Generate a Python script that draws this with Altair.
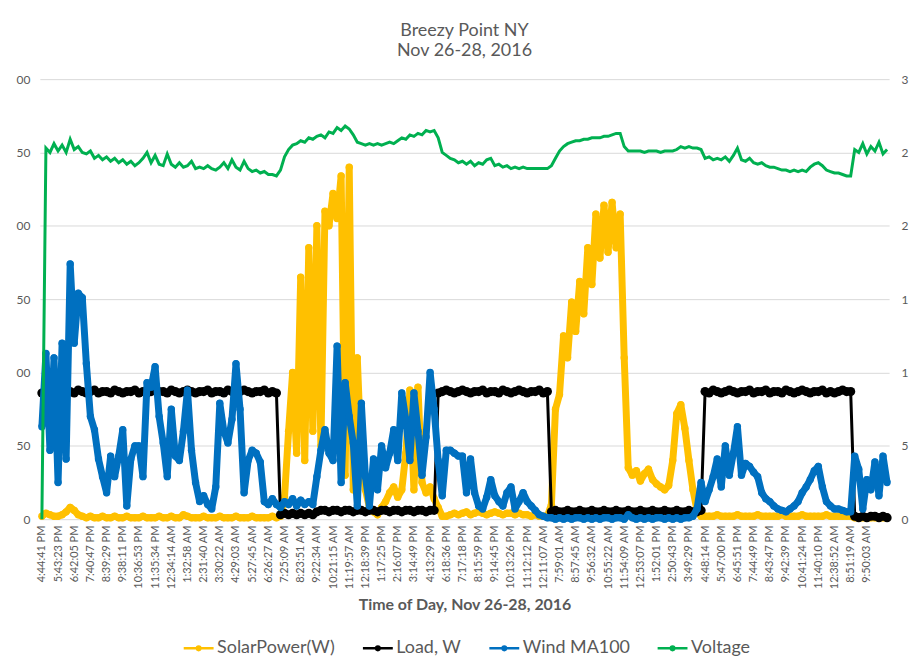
import json
import altair as alt
import pandas as pd

# ---------------- data ----------------
time_labels = [
    "4:44:41 PM", "5:43:23 PM", "6:42:05 PM", "7:40:47 PM", "8:39:29 PM", "9:38:11 PM",
    "10:36:53 PM", "11:35:34 PM", "12:34:14 AM", "1:32:58 AM", "2:31:40 AM", "3:30:22 AM",
    "4:29:03 AM", "5:27:45 AM", "6:26:27 AM", "7:25:09 AM", "8:23:51 AM", "9:22:34 AM",
    "10:21:15 AM", "11:19:57 AM", "12:18:39 PM", "1:17:25 PM", "2:16:07 PM", "3:14:49 PM",
    "4:13:29 PM", "6:18:36 PM", "7:17:18 PM", "8:15:59 PM", "9:14:45 PM", "10:13:26 PM",
    "11:12:12 PM", "12:11:07 AM", "7:59:01 AM", "8:57:45 AM", "9:56:32 AM", "10:55:22 AM",
    "11:54:09 AM", "12:53:07 PM", "1:52:01 PM", "2:50:43 PM", "3:49:29 PM", "4:48:14 PM",
    "5:47:00 PM", "6:45:51 PM", "7:44:49 PM", "8:43:47 PM", "9:42:39 PM", "10:41:24 PM",
    "11:40:10 PM", "12:38:52 AM", "8:51:19 AM", "9:50:03 AM",
]
samples_per_label = 4

solar_w = [
    2, 4, 3, 2, 2, 3, 5, 8, 6, 3,
    2, 1, 2, 1, 1, 2, 1, 1, 2, 1,
    1, 2, 1, 1, 1, 2, 1, 1, 1, 2,
    1, 1, 2, 1, 1, 3, 2, 1, 1, 1,
    2, 1, 1, 1, 2, 1, 1, 1, 2, 1,
    1, 1, 2, 1, 1, 1, 1, 2, 1, 2,
    15, 60, 100, 45, 165, 40, 185, 60, 200, 50,
    210, 200, 222, 205, 234, 30, 240, 20, 110, 40,
    20, 8, 5, 3, 8, 12, 18, 22, 15, 20,
    45, 88, 20, 90, 25, 18, 22, 14, 8, 2,
    2, 3, 4, 3, 4, 5, 3, 4, 5, 4,
    3, 4, 5, 4, 3, 4, 4, 3, 4, 3,
    3, 2, 3, 2, 2, 2, 10, 75, 85, 125,
    110, 148, 128, 162, 140, 185, 160, 208, 178, 214,
    182, 216, 185, 208, 110, 35, 30, 33, 26, 31,
    34, 27, 24, 22, 20, 23, 40, 72, 78, 62,
    40, 20, 6, 2, 2, 2, 2, 3, 2, 2,
    2, 2, 3, 2, 2, 2, 2, 3, 2, 2,
    2, 2, 2, 3, 2, 2, 2, 2, 3, 2,
    2, 2, 2, 2, 3, 2, 2, 2, 2, 2,
    2, 1, 1, 1, 1, 1, 1, 1, 1, 1,
]

load_w = [
    86, 87, 86, 88, 87, 86, 87, 87, 86, 88,
    87, 86, 87, 88, 86, 87, 87, 86, 88, 87,
    86, 87, 87, 88, 86, 87, 86, 87, 88, 87,
    87, 86, 88, 87, 86, 87, 88, 87, 86, 87,
    87, 88, 86, 87, 87, 86, 88, 87, 86, 87,
    88, 87, 86, 87, 87, 88, 86, 87, 86, 3,
    4, 3, 4, 3, 4, 3, 4, 3, 5, 6,
    6, 5, 6, 6, 5, 6, 6, 5, 6, 6,
    5, 6, 6, 5, 6, 6, 5, 6, 6, 5,
    6, 6, 5, 6, 6, 5, 6, 6, 86, 87,
    88, 87, 86, 87, 88, 87, 86, 87, 87, 88,
    86, 87, 87, 86, 88, 87, 86, 87, 88, 87,
    86, 87, 87, 88, 86, 87, 5, 6, 5, 5,
    6, 5, 5, 6, 5, 5, 6, 5, 5, 6,
    5, 5, 6, 5, 5, 6, 5, 5, 6, 5,
    5, 6, 5, 5, 6, 5, 5, 6, 5, 5,
    6, 5, 5, 6, 87, 86, 88, 87, 86, 87,
    88, 87, 86, 87, 87, 88, 86, 87, 87, 88,
    86, 87, 87, 86, 88, 87, 86, 87, 88, 87,
    86, 87, 87, 88, 86, 87, 86, 87, 88, 87,
    87, 2, 1, 2, 1, 2, 2, 1, 2, 1,
]

wind_ma100 = [
    63, 113, 47, 110, 25, 120, 41, 174, 120, 154,
    151, 106, 70, 61, 41, 29, 18, 43, 29, 43,
    61, 9, 41, 50, 50, 29, 93, 90, 104, 70,
    52, 29, 75, 43, 40, 60, 88, 47, 25, 12,
    16, 10, 7, 22, 79, 60, 52, 68, 106, 75,
    18, 40, 47, 45, 39, 12, 10, 14, 10, 8,
    12, 10, 14, 9, 13, 10, 12, 10, 29, 47,
    61, 45, 40, 118, 25, 93, 70, 52, 9, 79,
    29, 9, 41, 20, 50, 35, 45, 61, 40, 86,
    68, 40, 86, 60, 30, 56, 100, 75, 40, 16,
    47, 47, 45, 43, 43, 18, 41, 18, 9, 7,
    15, 27, 16, 12, 9, 18, 22, 7, 12, 18,
    12, 9, 6, 3, 2, 1, 1, 0, 1, 0,
    1, 0, 1, 1, 0, 1, 0, 1, 0, 1,
    1, 0, 1, 1, 0, 3, 1, 0, 1, 0,
    1, 0, 1, 1, 0, 1, 0, 1, 0, 1,
    1, 2, 7, 25, 12, 20, 29, 41, 22, 50,
    30, 45, 63, 30, 38, 36, 32, 29, 18, 14,
    12, 9, 7, 6, 5, 7, 9, 12, 18, 22,
    27, 33, 36, 22, 12, 9, 7, 7, 6, 5,
    5, 43, 34, 7, 27, 20, 39, 16, 43, 25,
]

voltage_v = [
    0, 25.3, 25.0, 25.6, 25.1, 25.5, 25.0, 25.9, 25.2, 25.4,
    25.0, 24.9, 25.1, 24.6, 24.8, 24.5, 24.7, 24.4, 24.6, 24.3,
    24.5, 24.2, 24.4, 24.1, 24.3, 24.6, 25.0, 24.3, 24.8, 24.2,
    24.1, 24.9, 24.2, 24.0, 24.3, 24.0, 24.1, 24.4, 23.9, 24.0,
    23.9, 24.1, 23.9, 23.8, 24.0, 24.3, 23.9, 24.5, 24.0, 23.8,
    24.4, 23.9, 23.7, 23.8, 23.6, 23.7, 23.5, 23.5, 23.4, 23.8,
    24.7, 25.2, 25.5, 25.6, 25.8, 25.7, 26.0, 25.9, 26.1, 26.2,
    26.0, 26.4, 26.3, 26.7, 26.5, 26.8, 26.6, 26.2, 25.7, 25.6,
    25.5, 25.6, 25.5, 25.6, 25.5, 25.6, 25.7, 25.6, 25.8, 26.0,
    25.9, 26.2, 26.1, 26.3, 26.2, 26.5, 26.4, 26.5, 26.0, 25.0,
    24.8, 24.6, 24.5, 24.3, 24.4, 24.2, 24.4, 24.1, 24.3, 24.2,
    24.5, 24.6, 24.1, 24.2, 24.0, 24.1, 23.9, 24.0, 23.9, 24.0,
    23.9, 23.9, 23.9, 23.9, 23.9, 23.9, 24.1, 24.6, 25.1, 25.4,
    25.6, 25.7, 25.8, 25.8, 25.9, 25.9, 26.0, 26.0, 26.0, 26.1,
    26.1, 26.2, 26.3, 26.3, 25.4, 25.1, 25.1, 25.1, 25.1, 25.0,
    25.1, 25.1, 25.1, 25.0, 25.1, 25.1, 25.1, 25.2, 25.4, 25.3,
    25.4, 25.3, 25.3, 25.2, 24.6, 24.7, 24.5, 24.6, 24.5, 24.7,
    24.4, 24.8, 25.3, 24.5, 24.4, 24.6, 24.3, 24.2, 24.3, 24.1,
    24.0, 24.0, 23.9, 23.8, 23.8, 23.7, 23.8, 23.7, 23.8, 23.7,
    24.0, 24.2, 24.3, 24.1, 23.8, 23.7, 23.6, 23.6, 23.5, 23.4,
    23.4, 25.2, 25.0, 25.6, 24.9, 25.4, 25.1, 25.7, 24.9, 25.2,
]

series_names = ["SolarPower(W)", "Load, W", "Wind MA100", "Voltage"]
series_colors = ["#FFC000", "#000000", "#0070C0", "#00B050"]


def frame(values, name):
    return pd.DataFrame({"i": list(range(len(values))), "value": values, "series": name})


df_solar = frame(solar_w, series_names[0])
df_load = frame(load_w, series_names[1])
df_wind = frame(wind_ma100, series_names[2])
df_volt = frame(voltage_v, series_names[3])

# ---------------- styling ----------------
FONT = "Lato"
GREY = "#595959"
n = len(solar_w)

label_expr = json.dumps(time_labels) + "[round(datum.value / %d)]" % samples_per_label
x_enc = alt.X(
    "i:Q",
    scale=alt.Scale(domain=[-0.5, n - 0.5], nice=False, zero=False),
    axis=alt.Axis(
        values=[k * samples_per_label for k in range(len(time_labels))],
        labelExpr=label_expr,
        labelAngle=270,
        labelAlign="right",
        labelBaseline="middle",
        labelFontSize=11,
        labelFont=FONT,
        labelColor=GREY,
        labelPadding=6,
        labelOverlap=False,
        labelFlush=False,
        grid=False,
        domain=False,
        ticks=False,
        title="Time of Day, Nov 26-28, 2016",
        titleFont=FONT,
        titleFontSize=16,
        titleFontWeight="bold",
        titleColor=GREY,
        titlePadding=7,
    ),
)

legend = alt.Legend(
    title=None,
    orient="none",
    direction="horizontal",
    legendX=143,
    legendY=555,
    symbolType="M-1,0H1M-0.12,0A0.12,0.12,0,1,0,0.12,0A0.12,0.12,0,1,0,-0.12,0",
    symbolSize=900,
    symbolStrokeWidth=2.5,
    labelFont=FONT,
    labelFontSize=18,
    labelColor=GREY,
    labelOffset=2,
    columnPadding=22,
)
color_enc = alt.Color(
    "series:N",
    scale=alt.Scale(domain=series_names, range=series_colors),
    sort=series_names,
    legend=legend,
)

y_left = alt.Y(
    "value:Q",
    scale=alt.Scale(domain=[0, 300], nice=False),
    axis=alt.Axis(
        values=[0, 50, 100, 150, 200, 250, 300],
        labelExpr="datum.value == 0 ? '0' : slice(toString(datum.value), -2)",
        grid=True,
        gridColor="#D9D9D9",
        gridWidth=1,
        domain=False,
        ticks=False,
        labelPadding=10,
        labelFont=FONT,
        labelFontSize=12,
        labelColor=GREY,
        title=None,
    ),
)
y_right = alt.Y(
    "value:Q",
    scale=alt.Scale(domain=[0, 30], nice=False),
    axis=alt.Axis(
        orient="right",
        values=[0, 5, 10, 15, 20, 25, 30],
        labelExpr="substring(toString(datum.value), 0, 1)",
        grid=False,
        domain=False,
        ticks=False,
        labelPadding=12,
        labelFont=FONT,
        labelFontSize=12,
        labelColor=GREY,
        title=None,
    ),
)

solar = alt.Chart(df_solar).mark_line(
    strokeWidth=7, strokeJoin="round", point=alt.OverlayMarkDef(filled=True, size=55)
).encode(x=x_enc, y=y_left, color=color_enc)

load = alt.Chart(df_load).mark_line(
    strokeWidth=3, point=alt.OverlayMarkDef(filled=True, size=85)
).encode(x=x_enc, y=y_left, color=color_enc)

wind = alt.Chart(df_wind).mark_line(
    strokeWidth=7, strokeJoin="round", point=alt.OverlayMarkDef(filled=True, size=55)
).encode(x=x_enc, y=y_left, color=color_enc)

volt = alt.Chart(df_volt).mark_line(strokeWidth=3).encode(
    x=x_enc, y=y_right, color=color_enc
)

left = alt.layer(solar, load, wind)

chart = (
    alt.layer(left, volt)
    .resolve_scale(y="independent")
    .properties(
        width=853,
        height=442,
        autosize=alt.AutoSizeParams(type="none"),
        padding={"left": 32, "top": 70, "right": 20, "bottom": 140},
        title=alt.TitleParams(
            text=["Breezy Point NY", "Nov 26-28, 2016"],
            font=FONT,
            fontSize=18,
            fontWeight="normal",
            color=GREY,
            anchor="middle",
            offset=13,
            lineHeight=20,
        ),
        background="white",
    )
    .configure_view(stroke=None)
)

chart.save("out.html", embed_options={"renderer": "svg", "actions": False})
